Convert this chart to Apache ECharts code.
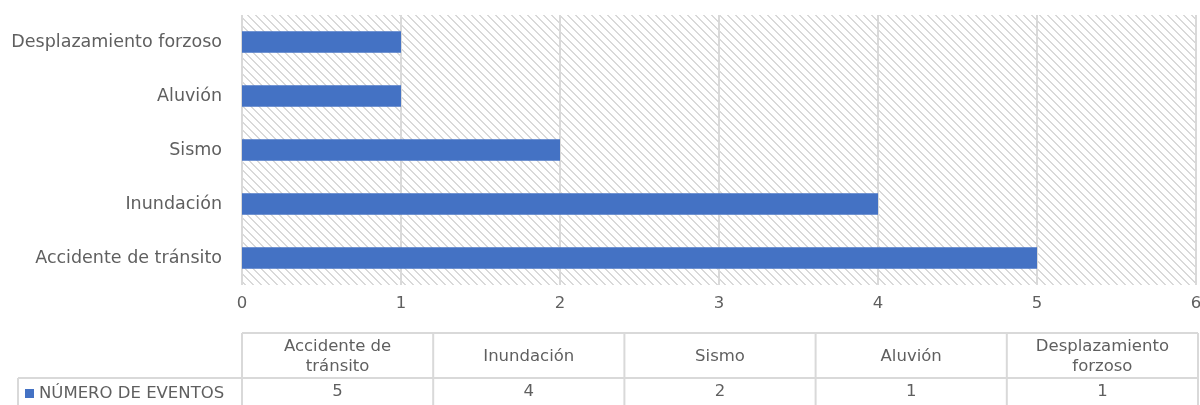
<!DOCTYPE html>
<html>
<head>
<meta charset="utf-8">
<script src="https://cdn.jsdelivr.net/npm/echarts@6/dist/echarts.min.js"></script>
<style>
html,body{margin:0;padding:0;background:#fff;}
#chart{width:1200px;height:405px;}
</style>
</head>
<body>
<div id="chart"></div>
<script>
var categories = ['Accidente de tránsito', 'Inundación', 'Sismo', 'Aluvión', 'Desplazamiento forzoso'];
var tableHeaders = ['Accidente de\ntránsito', 'Inundación', 'Sismo', 'Aluvión', 'Desplazamiento\nforzoso'];
var seriesName = 'NÚMERO DE EVENTOS';
var values = [5, 4, 2, 1, 1];
var xTicks = [0, 1, 2, 3, 4, 5, 6];

var FONT = '"DejaVu Sans", sans-serif';
var TXT = '#5f5f5f';
var LINE = '#d9d9d9';

// hatch pattern
var tile = document.createElement('canvas');
tile.width = 8; tile.height = 8;
var tc = tile.getContext('2d');
tc.fillStyle = '#ffffff'; tc.fillRect(0, 0, 8, 8);
tc.fillStyle = '#d9d9d9';
for (var i = 0; i < 8; i++) {
  tc.fillRect(i, i, 1, 1);
  tc.fillRect((i + 1) % 8, i, 1, 1);
}

var gridLeft = 242, gridRight = 4, gridTop = 15, gridBottom = 120;

var chart = echarts.init(document.getElementById('chart'), null, {renderer: 'canvas'});

function buildTable() {
  var W = chart.getWidth();
  var L = gridLeft, R = W - 2;
  var n = tableHeaders.length;
  var cw = (R - L) / n;
  var yTop = 333, yMid = 378, yBot = 414, keyLeft = 18;
  var els = [];
  function line(x1, y1, x2, y2) {
    els.push({type: 'line', shape: {x1: x1, y1: y1, x2: x2, y2: y2}, style: {stroke: LINE, lineWidth: 2}, silent: true});
  }
  line(L, yTop, R, yTop);
  line(keyLeft, yMid, R, yMid);
  line(keyLeft, yMid, keyLeft, yBot);
  for (var i = 0; i <= n; i++) line(L + i * cw, yTop, L + i * cw, yBot);
  for (var j = 0; j < n; j++) {
    var cx = L + cw * (j + 0.5);
    els.push({type: 'text', x: cx, y: (yTop + yMid) / 2 + 1, style: {text: tableHeaders[j], fill: TXT, font: '16.5px ' + FONT, align: 'center', verticalAlign: 'middle', lineHeight: 20}, silent: true});
    els.push({type: 'text', x: cx, y: 392, style: {text: String(values[j]), fill: TXT, font: '16.5px ' + FONT, align: 'center', verticalAlign: 'middle'}, silent: true});
  }
  return els;
}

var option = {
  animation: false,
  backgroundColor: '#ffffff',
  textStyle: {fontFamily: FONT},
  grid: {left: gridLeft, right: gridRight, top: gridTop, bottom: gridBottom, show: true, borderWidth: 0,
         outerBoundsMode: 'none', containLabel: false,
         backgroundColor: {image: tile, repeat: 'repeat'}},
  legend: {left: 25, top: 385, itemWidth: 9, itemHeight: 9, itemGap: 4, icon: 'rect', padding: 0,
           textStyle: {color: TXT, fontSize: 16.5, fontFamily: FONT, padding: [0, 0, 0, 0]},
           data: [seriesName], selectedMode: false},
  xAxis: {type: 'value', min: xTicks[0], max: xTicks[xTicks.length - 1], interval: 1,
          axisLine: {show: false}, axisTick: {show: false},
          axisLabel: {color: TXT, fontSize: 16.5, fontFamily: FONT, margin: 10},
          splitLine: {show: true, lineStyle: {color: LINE, width: 2}}},
  yAxis: {type: 'category', data: categories,
          axisLine: {show: false}, axisTick: {show: false},
          axisLabel: {color: TXT, fontSize: 17.5, fontFamily: FONT, margin: 20}},
  series: [{type: 'bar', name: seriesName, data: values, barCategoryGap: '60%',
            itemStyle: {color: '#4472C4'}}],
  graphic: buildTable()
};
chart.setOption(option);
</script>
</body>
</html>
